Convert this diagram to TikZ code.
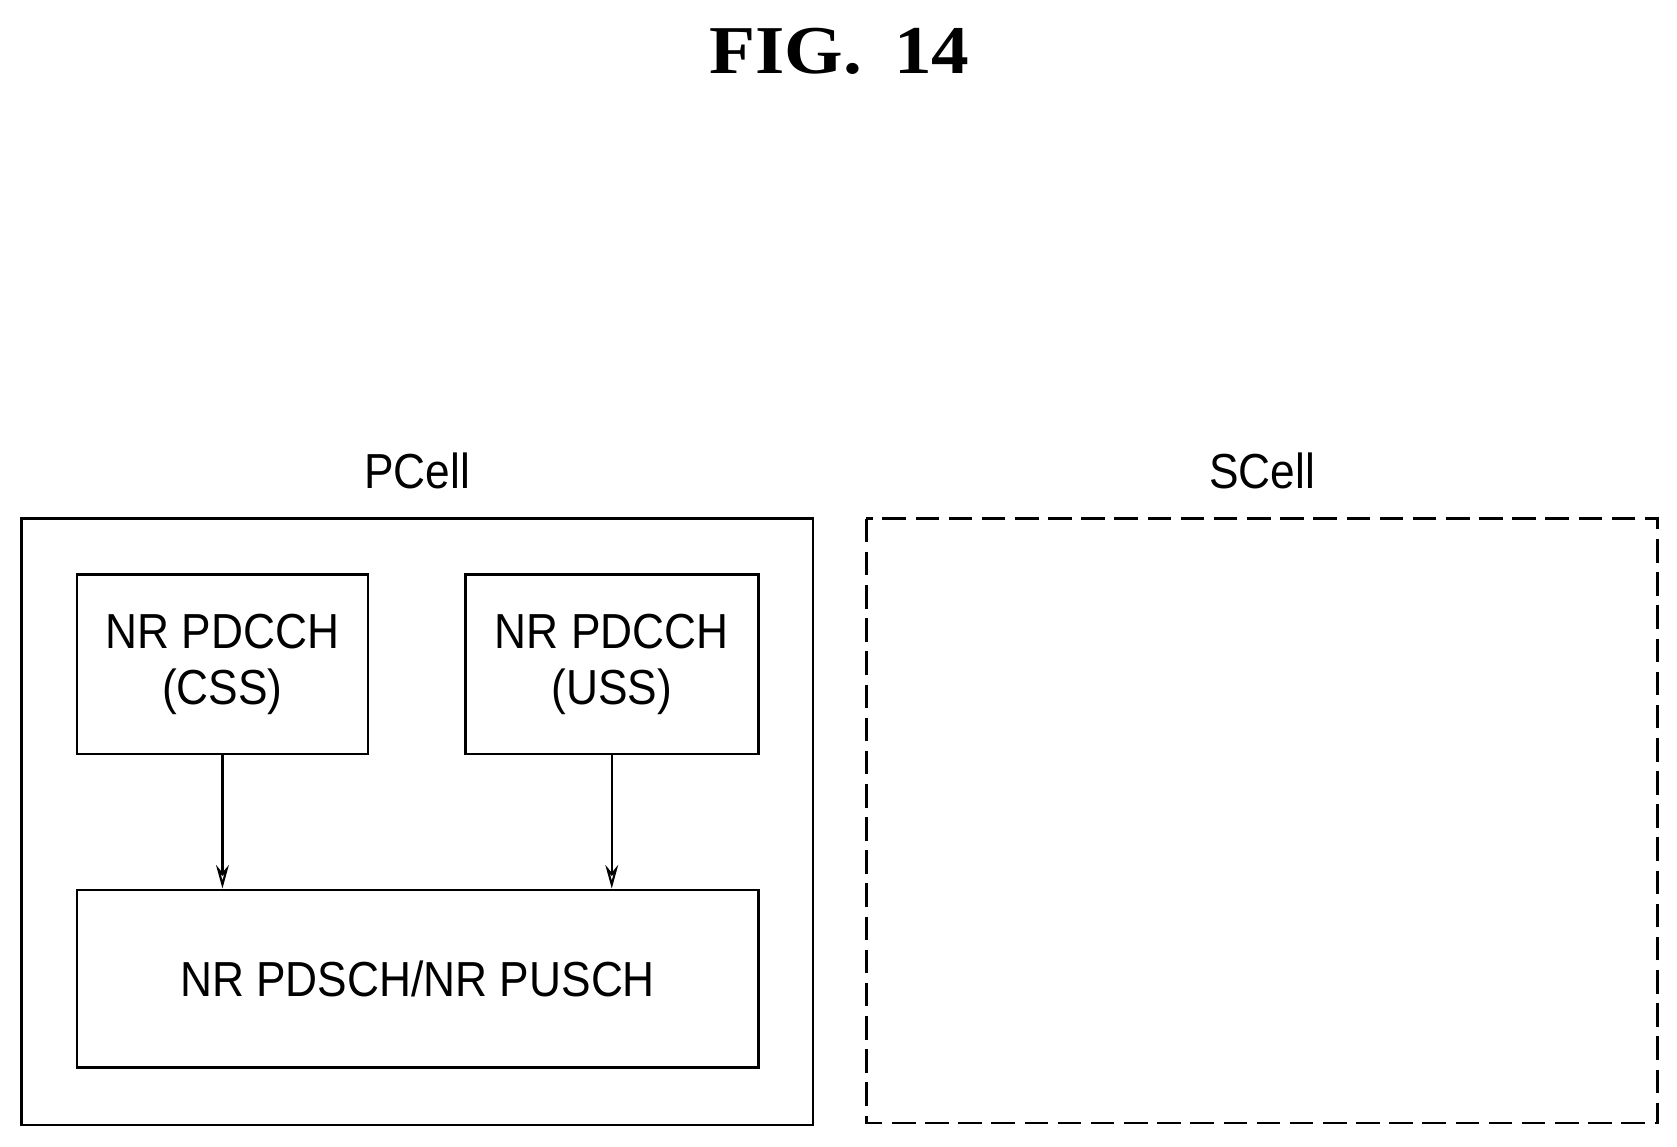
\documentclass[tikz,border=0pt]{standalone}
\usepackage{fontspec}
\setmainfont{Liberation Sans}[FakeStretch=0.9]
\newfontfamily\titlefont{Liberation Serif}[FakeStretch=1.1]
\usetikzlibrary{arrows.meta}
\begin{document}
\begin{tikzpicture}[x=1pt,y=-1pt,
  box/.style={draw,line width=2.5pt},
  lbl/.style={font=\fontsize{46}{52}\selectfont,align=center},
  arr/.style={draw,line width=2pt,-{Stealth[length=22pt,width=12pt,open]}}]
\useasboundingbox (0,0) rectangle (1568,1072);
\node[font=\titlefont\bfseries\fontsize{64}{70}\selectfont] (t) at (785,48) {FIG.\hspace{30pt}14};
\node[lbl] (pl) at (390,440) {PCell};
\node[lbl] (sl) at (1180,440) {SCell};
\draw[box] (20,485) rectangle (760,1052);
\draw[box,dash pattern=on 22pt off 9pt] (810,485) rectangle (1550,1050);
\node[box,lbl,minimum width=272pt,minimum height=168pt] (css) at (208,621) {NR PDCCH\\(CSS)};
\node[box,lbl,minimum width=274pt,minimum height=168pt] (uss) at (572,621) {NR PDCCH\\(USS)};
\node[box,lbl,minimum width=637pt,minimum height=166pt] (d) at (390.5,915) {NR PDSCH/NR PUSCH};
\draw[arr] (css.south) -- (css.south |- d.north);
\draw[arr] (uss.south) -- (uss.south |- d.north);
\end{tikzpicture}
\end{document}
